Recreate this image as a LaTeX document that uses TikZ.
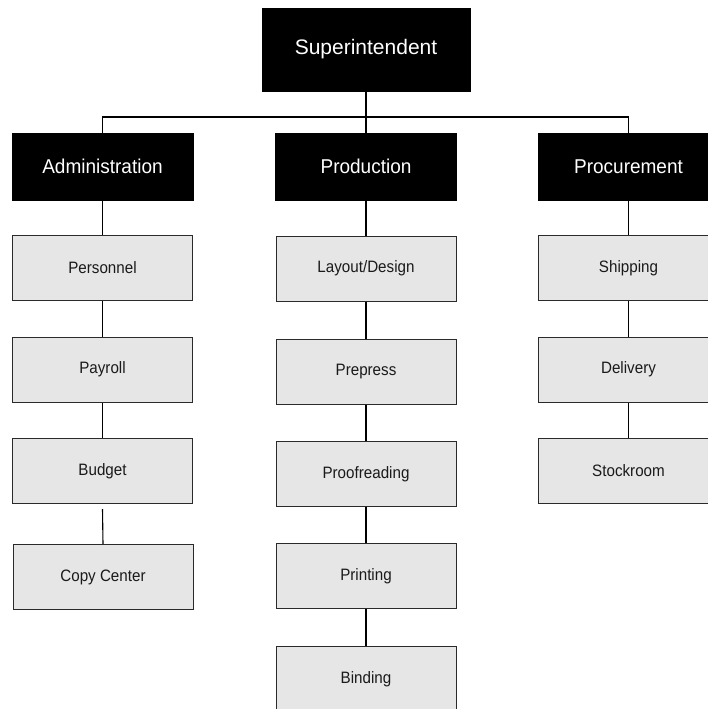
\documentclass[tikz,border=0pt]{standalone}
\usepackage{fontspec}
\setmainfont{Liberation Sans}
\newfontfamily\headfont[FakeStretch=0.95]{Liberation Sans}
\newfontfamily\topfont[FakeStretch=1.0]{Liberation Sans}
\newfontfamily\unitfont[FakeStretch=0.92]{Liberation Sans}
\definecolor{unitfill}{HTML}{E6E6E6}
\definecolor{unitedge}{HTML}{2A2A2A}
\definecolor{unittext}{HTML}{1A1A1A}
\tikzset{
  x=1pt, y=-1pt,
  topbox/.style={rectangle, fill=black, draw=black, text=white,
    minimum width=208pt, minimum height=83pt, inner sep=0pt,
    font=\topfont\fontsize{21}{24}\selectfont},
  headbox/.style={rectangle, fill=black, draw=black, text=white,
    minimum width=181pt, minimum height=67pt, inner sep=0pt,
    font=\headfont\fontsize{20}{24}\selectfont},
  unitbox/.style={rectangle, fill=unitfill, draw=unitedge, line width=1pt,
    text=unittext, minimum width=180pt, minimum height=65pt, inner sep=0pt,
    font=\unitfont\fontsize{16.5}{19}\selectfont},
  link/.style={draw=black, line width=1.1pt}
}
\begin{document}
\begin{tikzpicture}
\useasboundingbox (0,0) rectangle (708,709);
\clip (0,0) rectangle (708,709);
\fill[white] (0,0) rectangle (708,709);

% top of the chart
\node[topbox] (sup) at (366,49.5) {Superintendent};

% department heads
\node[headbox] (adm) at (102.5,166.5) {Administration};
\node[headbox] (prod) at (366,166.5) {Production};
\node[headbox] (proc) at (628.5,166.5) {Procurement};

% Administration units
\node[unitbox] (pers) at (102.5,268) {Personnel};
\node[unitbox] (pay) at (102.5,369.5) {Payroll};
\node[unitbox] (bud) at (102.5,471) {Budget};
\node[unitbox] (copy) at (103,577) {Copy Center};

% Production units
\node[unitbox] (lay) at (366,268.5) {Layout/Design};
\node[unitbox] (pre) at (366,371.5) {Prepress};
\node[unitbox] (proof) at (366,474) {Proofreading};
\node[unitbox] (print) at (366,576) {Printing};
\node[unitbox] (bind) at (366,679) {Binding};

% Procurement units
\node[unitbox] (ship) at (628.5,268) {Shipping};
\node[unitbox] (del) at (628.5,369.5) {Delivery};
\node[unitbox] (stock) at (628.5,471) {Stockroom};

% connectors
\coordinate (bar) at (366,117);
\draw[link] (sup.south) -- (prod.north);
\draw[link] (adm.north) |- (bar) -| (proc.north);

\draw[link] (adm.south) -- (pers.north);
\draw[link] (pers.south) -- (pay.north);
\draw[link] (pay.south) -- (bud.north);
\draw[link] ([yshift=-5pt]bud.south) -- (copy.north);

\draw[link] (prod.south) -- (lay.north);
\draw[link] (lay.south) -- (pre.north);
\draw[link] (pre.south) -- (proof.north);
\draw[link] (proof.south) -- (print.north);
\draw[link] (print.south) -- (bind.north);

\draw[link] (proc.south) -- (ship.north);
\draw[link] (ship.south) -- (del.north);
\draw[link] (del.south) -- (stock.north);
\end{tikzpicture}
\end{document}
